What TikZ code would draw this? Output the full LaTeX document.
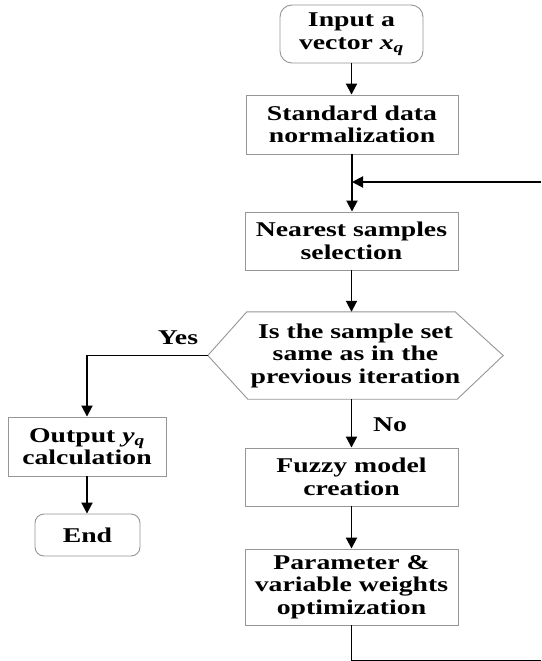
\documentclass[tikz,border=0pt]{standalone}
\usepackage{fontspec}
\setmainfont{Liberation Serif}[FakeStretch=1.32]
\usetikzlibrary{arrows.meta}
\definecolor{boxgray}{RGB}{150,150,150}
\begin{document}
\begin{tikzpicture}[x=1pt,y=-1pt,
  txt/.style={align=center, inner sep=0pt, font=\fontsize{21}{22.5}\selectfont\bfseries},
  box/.style={txt, draw=boxgray, line width=0.9pt, fill=white},
  rbox/.style={box, rounded corners=12pt},
  flow/.style={line width=1.9pt},
  arr/.style={flow, -{Triangle[length=11pt,width=11pt]}},
  lbl/.style={font=\fontsize{21}{22}\selectfont\bfseries, inner sep=0pt}
]
\useasboundingbox (0,0) rectangle (541,661);
\clip (0,0) rectangle (541,661);
\fill[white] (0,0) rectangle (541,661);

% nodes
\node[rbox, minimum width=143pt, minimum height=58pt] (inp) at (351.5,34) {Input a\\vector \textit{x\textsubscript{q}}};
\node[box, minimum width=212pt, minimum height=59pt] (std) at (352,124.5) {Standard data\\normalization};
\node[box, minimum width=213pt, minimum height=58pt] (near) at (351.5,241) {Nearest samples\\selection};
\node[txt, minimum width=295pt, minimum height=87pt] (dec) at (355.5,355.5) {Is the sample set\\same as in the\\previous iteration};
\draw[draw=boxgray, line width=0.9pt] (dec.west) -- ([xshift=39pt]dec.north west) -- ([xshift=-48pt]dec.north east) -- (dec.east) -- ([xshift=-46pt]dec.south east) -- ([xshift=40pt]dec.south west) -- cycle;
\node[box, minimum width=158pt, minimum height=59pt] (out) at (87,446.5) {Output \textit{y\textsubscript{q}}\\calculation};
\node[rbox, rounded corners=9pt, minimum width=105pt, minimum height=42pt] (end) at (87.5,535) {End};
\node[box, minimum width=213pt, minimum height=58pt] (fuzzy) at (351.5,477) {Fuzzy model\\creation};
\node[box, minimum width=213pt, minimum height=76pt] (param) at (351.5,587) {Parameter \&\\variable weights\\optimization};

\node[lbl] (yes) at (178,338) {Yes};
\node[lbl] (no) at (390,425) {No};

\coordinate (fbR) at (541,182);
\coordinate (fbB) at (352,661);
\coordinate (fbC) at (541,661);

% connectors
\draw[arr] (inp.south) -- (inp.south |- std.north);
\draw[arr] (std.south) -- (std.south |- near.north);
\draw[arr] (fbR) -- (std.south |- fbR);
\draw[arr] (near.south) -- (near.south |- dec.north);
\draw[arr] (dec.west) -- (out.north |- dec.west) -- (out.north);
\draw[arr] (out.south) -- (out.south |- end.north);
\draw[arr] (near.south |- dec.south) -- (near.south |- fuzzy.north);
\draw[arr] (fuzzy.south) -- (fuzzy.south |- param.north);
\draw[flow] (param.south) -- (param.south |- fbB) -- (fbC);
\end{tikzpicture}
\end{document}
